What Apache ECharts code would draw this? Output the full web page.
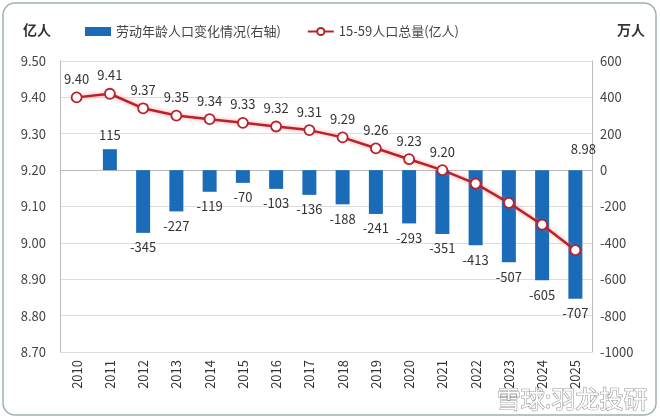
<!DOCTYPE html>
<html>
<head>
<meta charset="utf-8">
<script src="https://cdn.jsdelivr.net/npm/echarts@6/dist/echarts.min.js"></script>
<style>html,body{margin:0;padding:0;background:#fff;}#main{width:660px;height:419px;}</style>
</head>
<body>
<div id="main"></div>
<script>
var years = ['2010','2011','2012','2013','2014','2015','2016','2017','2018','2019','2020','2021','2022','2023','2024','2025'];
var laborChange = [null,115,-345,-227,-119,-70,-103,-136,-188,-241,-293,-351,-413,-507,-605,-707];
var totalPop = [9.40,9.41,9.37,9.35,9.34,9.33,9.32,9.31,9.29,9.26,9.23,9.20,9.163,9.11,9.05,8.98];
var popLabelShown = [true,true,true,true,true,true,true,true,true,true,true,true,false,false,false,true];
var leftTicks = {min:8.7, max:9.5, interval:0.1};
var rightTicks = {min:-1000, max:600, interval:200};

var barData = laborChange.map(function(v){
  if (v === null) return null;
  return {value:v, label:{position: v >= 0 ? 'top' : 'bottom'}};
});
var lineData = totalPop.map(function(v,i){
  var item = {value:v, label:{show: popLabelShown[i]}};
  if (i === totalPop.length-1) item.label.offset = [8,-83];
  return item;
});

var chart = echarts.init(document.getElementById('main'));
chart.setOption({
  animation:false,
  backgroundColor:'#fff',
  textStyle:{fontFamily:'"Noto Sans CJK SC", "Liberation Sans", sans-serif'},
  graphic:[
    {type:'rect', shape:{x:3,y:3,width:653,height:412,r:12}, style:{fill:'none', stroke:'#9fb0b5', lineWidth:1.5}, z:-1},
    {type:'text', right:12, bottom:8, style:{text:'雪球:羽龙投研', fontSize:24, fill:'#fff', stroke:'#999', lineWidth:1.2, fontFamily:'"Noto Sans CJK SC", sans-serif'}, z:100}
  ],
  title:[
    {text:'亿人', left:18, top:18, textStyle:{fontSize:14, fontWeight:'bold', color:'#333'}},
    {text:'万人', left:612, top:18, textStyle:{fontSize:14, fontWeight:'bold', color:'#333'}}
  ],
  legend:{
    left:80, top:20, itemGap:26, itemWidth:26, itemHeight:9,
    textStyle:{fontSize:13, color:'#444'},
    data:[{name:'劳动年龄人口变化情况(右轴)', icon:'rect'},{name:'15-59人口总量(亿人)'}]
  },
  grid:{left:60, right:68, top:61, bottom:67},
  xAxis:{
    type:'category', data:years,
    axisLine:{lineStyle:{color:'#bbb'}},
    axisTick:{show:false},
    axisLabel:{rotate:90, fontSize:13, color:'#333', margin:8}
  },
  yAxis:[
    {type:'value', min:leftTicks.min, max:leftTicks.max, interval:leftTicks.interval,
     axisLine:{show:true, lineStyle:{color:'#bbb'}}, axisTick:{show:false},
     splitLine:{lineStyle:{color:'#ddd'}},
     axisLabel:{fontSize:13, color:'#444', margin:14, formatter:function(v){return v.toFixed(2);}}},
    {type:'value', min:rightTicks.min, max:rightTicks.max, interval:rightTicks.interval,
     axisLine:{show:true, lineStyle:{color:'#bbb'}}, axisTick:{show:false},
     splitLine:{show:false},
     axisLabel:{fontSize:13, color:'#444', margin:8, formatter:function(v){return String(v);}}}
  ],
  series:[
    {name:'劳动年龄人口变化情况(右轴)', type:'bar', yAxisIndex:1, data:barData, barWidth:14,
     itemStyle:{color:'#1a6bb8'},
     label:{show:true, fontSize:13, color:'#333', distance:8}},
    {name:'15-59人口总量(亿人)', type:'line', yAxisIndex:0, data:lineData, z:5,
     symbol:'circle', symbolSize:10,
     lineStyle:{color:'#b8222a', width:2.5, shadowColor:'rgba(255,110,110,0.7)', shadowBlur:4},
     itemStyle:{color:'#fff', borderColor:'#b8222a', borderWidth:1.8},
     label:{show:true, position:'top', fontSize:13, color:'#333', distance:6,
            formatter:function(p){return p.value.toFixed(2);}}}
  ]
});
</script>
</body>
</html>
